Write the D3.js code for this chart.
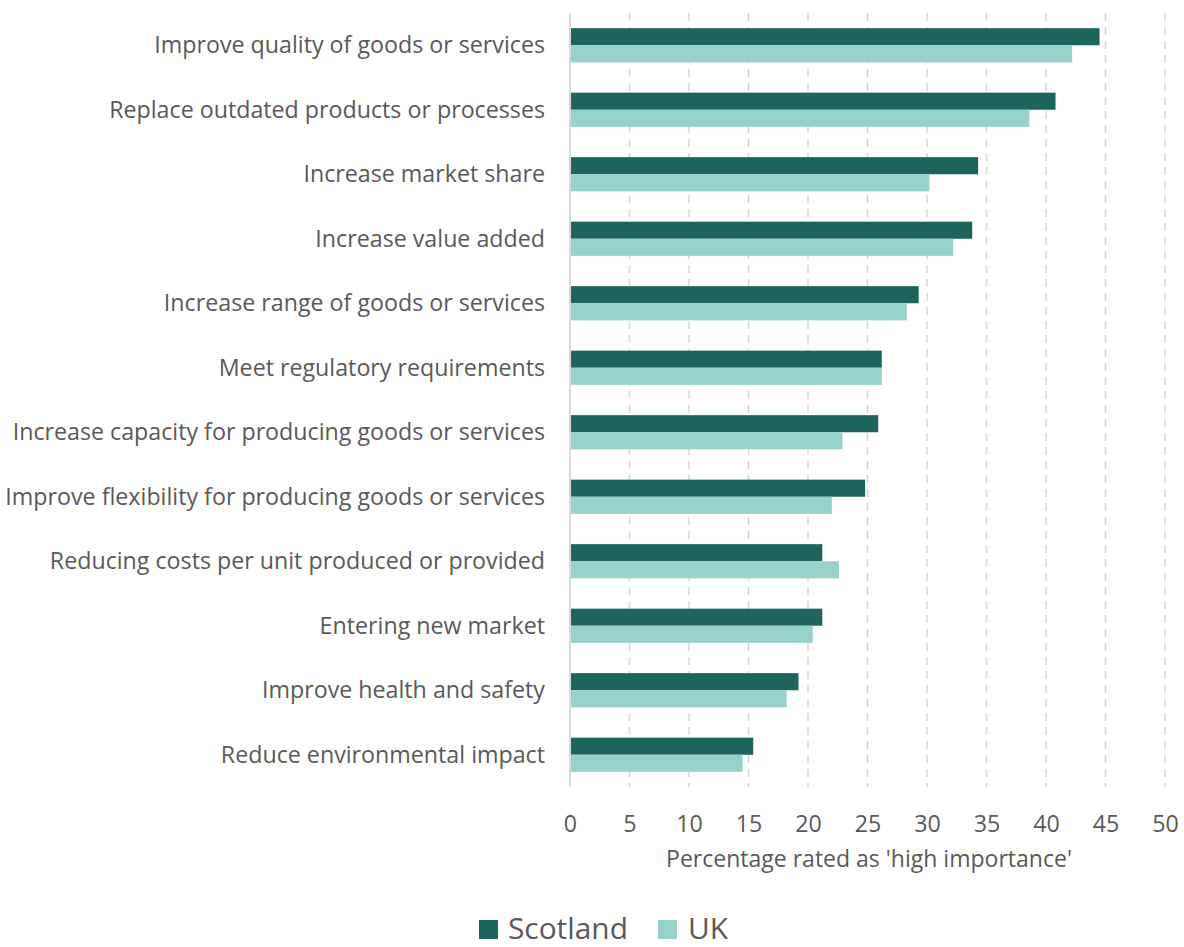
<!DOCTYPE html>
<html>
<head>
<meta charset="utf-8">
<script src="https://cdn.jsdelivr.net/npm/d3@7"></script>
<style>
  html, body { margin: 0; padding: 0; background: #ffffff; }
  svg { display: block; }
  text { font-family: "Open Sans", Lato, sans-serif; fill: #595959; }
</style>
</head>
<body>
<svg id="chart" width="1184" height="947"></svg>
<script>
// Reasons for innovating, share of firms rating each as "high importance"
const categories = [
  "Improve quality of goods or services",
  "Replace outdated products or processes",
  "Increase market share",
  "Increase value added",
  "Increase range of goods or services",
  "Meet regulatory requirements",
  "Increase capacity for producing goods or services",
  "Improve flexibility for producing goods or services",
  "Reducing costs per unit produced or provided",
  "Entering new market",
  "Improve health and safety",
  "Reduce environmental impact"
];
const scotland = [44.5, 40.8, 34.3, 33.8, 29.3, 26.2, 25.9, 24.8, 21.2, 21.2, 19.2, 15.4];
const uk       = [42.2, 38.6, 30.2, 32.2, 28.3, 26.2, 22.9, 22.0, 22.6, 20.4, 18.2, 14.5];
const seriesNames = ["Scotland", "UK"];
const xTicks = [0, 5, 10, 15, 20, 25, 30, 35, 40, 45, 50];
const axisTitle = "Percentage rated as 'high importance'";

const colors = { Scotland: "#1d645d", UK: "#96d1ca" };

const svg = d3.select("#chart");
const margin = { left: 570, right: 19, top: 13, bottom: 160 };
const W = 1184, H = 947;

const x = d3.scaleLinear().domain([0, 50]).range([margin.left, W - margin.right]);
const y = d3.scaleBand().domain(categories).range([margin.top, H - margin.bottom]).paddingInner(0.47).paddingOuter(0.235);
const y1 = d3.scaleBand().domain(seriesNames).range([0, y.bandwidth()]);

// shrink or grow a text element's font so it spans the given width
function fitWidth(sel, target, base) {
  const node = sel.node();
  sel.attr("font-size", base);
  const w = node.getComputedTextLength();
  if (w > 0) sel.attr("font-size", base * target / w);
  return +sel.attr("font-size");
}

// dashed vertical gridlines
svg.append("g")
  .selectAll("line")
  .data(xTicks.filter(t => t > 0))
  .join("line")
  .attr("x1", d => x(d)).attr("x2", d => x(d))
  .attr("y1", margin.top).attr("y2", H - margin.bottom)
  .attr("stroke", "#d6d6d6")
  .attr("stroke-width", 1.5)
  .attr("stroke-dasharray", "8,6");

const rows = categories.map((c, i) => ({ cat: c, Scotland: scotland[i], UK: uk[i] }));

// bars
const groups = svg.append("g")
  .selectAll("g")
  .data(rows)
  .join("g")
  .attr("transform", d => `translate(0,${y(d.cat)})`);

groups.selectAll("rect")
  .data(d => seriesNames.map(s => ({ s, v: d[s] })))
  .join("rect")
  .attr("x", x(0))
  .attr("y", d => y1(d.s))
  .attr("width", d => x(d.v) - x(0))
  .attr("height", y1.bandwidth())
  .attr("fill", d => colors[d.s]);

// category axis line
svg.append("line")
  .attr("x1", x(0)).attr("x2", x(0))
  .attr("y1", margin.top).attr("y2", H - margin.bottom)
  .attr("stroke", "#d9d9d9")
  .attr("stroke-width", 2);

// category labels, sized so the longest one spans the left margin
const labels = svg.append("g")
  .selectAll("text")
  .data(categories)
  .join("text")
  .attr("x", 545)
  .attr("y", d => y(d) + y.bandwidth() / 2)
  .attr("dy", "0.35em")
  .attr("text-anchor", "end")
  .text(d => d);
const longest = labels.filter(d => d === "Improve flexibility for producing goods or services");
const labelSize = fitWidth(longest, 540, 20);
labels.attr("font-size", labelSize);

// x axis tick labels
const xAxis = d3.axisBottom(x).tickValues(xTicks).tickSize(0).tickPadding(0);
const gx = svg.append("g").attr("transform", `translate(0,${H - margin.bottom + 28})`).call(xAxis);
gx.select(".domain").remove();
gx.selectAll("text")
  .attr("font-size", labelSize)
  .attr("font-family", "'Open Sans', Lato, sans-serif")
  .attr("fill", "#595959")
  .attr("dy", "0.71em");

// axis title
const title = svg.append("text")
  .attr("x", 869)
  .attr("y", 867)
  .attr("text-anchor", "middle")
  .text(axisTitle);
fitWidth(title, 406, 19);

// legend
const legend = svg.append("g");
const legendItems = [
  { name: "Scotland", sx: 479, tx: 508, w: 120 },
  { name: "UK", sx: 658, tx: 688, w: 39 }
];
legendItems.forEach(it => {
  legend.append("rect")
    .attr("x", it.sx).attr("y", 920)
    .attr("width", 19).attr("height", 19)
    .attr("fill", colors[it.name]);
  const t = legend.append("text")
    .attr("x", it.tx).attr("y", 939)
    .text(it.name);
  if (it.name === "Scotland") fitWidth(t, it.w, 27);
});
legend.selectAll("text").attr("font-size", legend.select("text").attr("font-size"));
</script>
</body>
</html>
